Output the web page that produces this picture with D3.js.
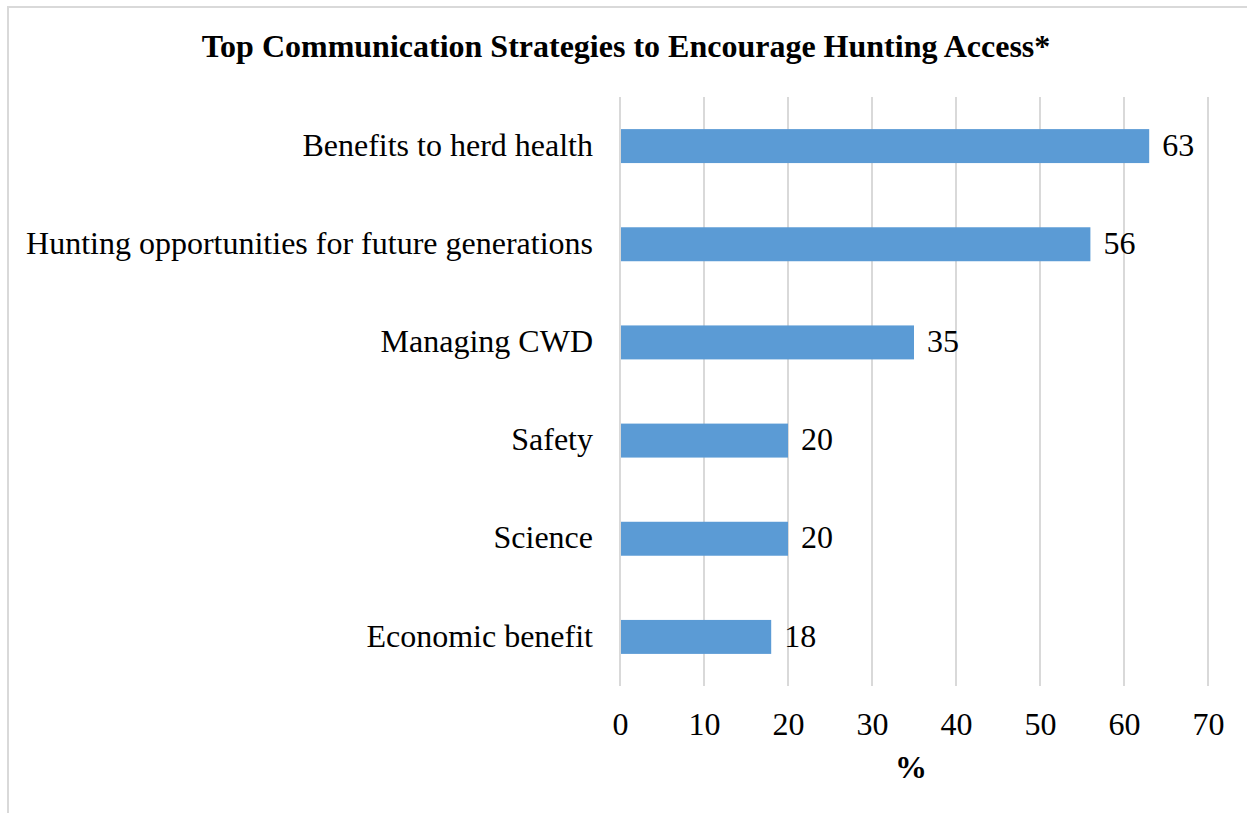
<!DOCTYPE html>
<html>
<head>
<meta charset="utf-8">
<script src="https://cdn.jsdelivr.net/npm/d3@7/dist/d3.min.js"></script>
<style>
  html, body { margin: 0; padding: 0; background: #fff; }
  svg { display: block; }
  text { font-family: "Liberation Serif", "Times New Roman", serif; fill: #000; }
</style>
</head>
<body>
<svg id="chart" width="1247" height="813"></svg>
<script>
// Survey results: share of respondents choosing each communication strategy
const categories = [
  "Benefits to herd health",
  "Hunting opportunities for future generations",
  "Managing CWD",
  "Safety",
  "Science",
  "Economic benefit"
];
const percentages = [63, 56, 35, 20, 20, 18];
const xTicks = [0, 10, 20, 30, 40, 50, 60, 70];
const titleText = "Top Communication Strategies to Encourage Hunting Access*";
const axisTitle = "%";

const svg = d3.select("#chart");
const W = 1247, H = 813;
const plot = { left: 620, right: 1208, top: 97, bottom: 686 };
const serif = '"Liberation Serif", "Times New Roman", serif';

// chart frame
svg.append("rect")
  .attr("x", 8).attr("y", 7)
  .attr("width", W + 20).attr("height", H + 20)
  .attr("fill", "#fff")
  .attr("stroke", "#d9d9d9")
  .attr("stroke-width", 2);

const x = d3.scaleLinear().domain([0, 70]).range([plot.left, plot.right]);
const y = d3.scaleBand().domain(categories).range([plot.top, plot.bottom]).paddingInner(0.654).paddingOuter(0.327);

// vertical gridlines
svg.append("g")
  .selectAll("line")
  .data(xTicks)
  .join("line")
  .attr("x1", d => x(d)).attr("x2", d => x(d))
  .attr("y1", plot.top).attr("y2", plot.bottom)
  .attr("stroke", "#d9d9d9")
  .attr("stroke-width", 2);

// x axis tick labels
const xAxis = d3.axisBottom(x).tickValues(xTicks).tickSize(0).tickPadding(0);
const gx = svg.append("g")
  .attr("transform", `translate(0, ${plot.bottom})`)
  .call(xAxis);
gx.select(".domain").remove();
gx.selectAll("text")
  .attr("y", 49).attr("dy", 0)
  .style("font-size", "32px")
  .style("font-family", serif)
  .attr("fill", "#000");

// y axis category labels
const yAxis = d3.axisLeft(y).tickSize(0).tickPadding(27);
const gy = svg.append("g")
  .attr("transform", `translate(${plot.left}, 0)`)
  .call(yAxis);
gy.select(".domain").remove();
gy.selectAll("text")
  .attr("dy", "0.3em")
  .style("font-size", "32px")
  .style("font-family", serif)
  .attr("fill", "#000");

// bars
svg.append("g")
  .selectAll("rect")
  .data(categories)
  .join("rect")
  .attr("x", x(0) + 1)
  .attr("y", d => y(d))
  .attr("width", (d, i) => x(percentages[i]) - x(0) - 1)
  .attr("height", y.bandwidth())
  .attr("fill", "#5b9bd5");

// value labels
svg.append("g")
  .selectAll("text")
  .data(categories)
  .join("text")
  .attr("x", (d, i) => x(percentages[i]) + 13)
  .attr("y", d => y(d) + y.bandwidth() / 2)
  .attr("dy", "0.3em")
  .style("font-size", "32px")
  .text((d, i) => percentages[i]);

// chart title
svg.append("text")
  .attr("x", 626).attr("y", 57)
  .attr("text-anchor", "middle")
  .style("font-size", "32px")
  .style("font-weight", "bold")
  .text(titleText);

// axis title
svg.append("text")
  .attr("x", 911).attr("y", 778)
  .attr("text-anchor", "middle")
  .style("font-size", "32px")
  .style("font-weight", "bold")
  .text(axisTitle);
</script>
</body>
</html>
